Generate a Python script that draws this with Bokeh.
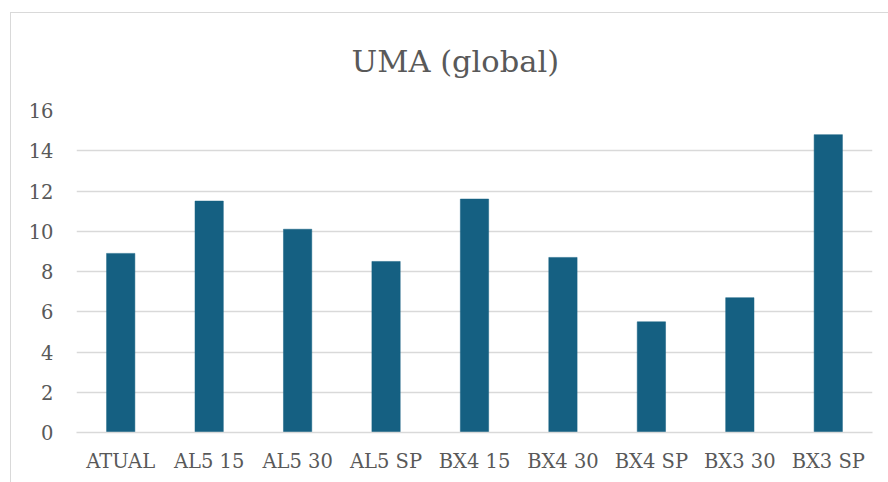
from bokeh.plotting import figure
from bokeh.models import FactorRange, Range1d, FixedTicker
from bokeh.embed import file_html
from bokeh.resources import INLINE

# UMA (global) per scenario
categories = ["ATUAL", "AL5 15", "AL5 30", "AL5 SP", "BX4 15",
              "BX4 30", "BX4 SP", "BX3 30", "BX3 SP"]
values = [8.9, 11.5, 10.1, 8.5, 11.6, 8.7, 5.5, 6.7, 14.8]
y_ticks = [0, 2, 4, 6, 8, 10, 12, 14, 16]

FONT = "DejaVu Serif"
TEXT = "#595959"
GRID = "#d9d9d9"
BAR = "#156082"

p = figure(
    width=877, height=470,
    x_range=FactorRange(factors=categories),
    y_range=Range1d(0, 16),
    output_backend="svg", toolbar_location=None,
    min_border_left=65, min_border_right=17,
    min_border_top=97, min_border_bottom=52,
)
# thin grey chart-area border on the left and top
p.styles = {
    "margin-left": "10px", "margin-top": "12px",
    "border-left": "1px solid #d9d9d9", "border-top": "1px solid #d9d9d9",
    "box-sizing": "content-box",
}
p.background_fill_color = "white"
p.border_fill_color = "white"
p.outline_line_color = None

p.title.text = "UMA (global)"
p.title.align = "left"
p.title.vertical_align = "top"
p.title.offset = 275
p.title.standoff = 59
p.title.text_font = FONT
p.title.text_font_size = "30.5px"
p.title.text_font_style = "normal"
p.title.text_color = TEXT

p.vbar(x=categories, top=values, width=0.32,
       fill_color=BAR, line_color=BAR, line_width=0.5)

# axes
p.yaxis.ticker = FixedTicker(ticks=y_ticks)
p.yaxis.axis_line_color = None
p.yaxis.major_tick_line_color = None
p.yaxis.major_tick_out = 0
p.yaxis.major_tick_in = 0
p.yaxis.minor_tick_line_color = None
p.yaxis.major_label_standoff = 23
p.yaxis.major_label_text_font = FONT
p.yaxis.major_label_text_font_size = "19.5px"
p.yaxis.major_label_text_color = TEXT

p.xaxis.axis_line_color = GRID
p.xaxis.axis_line_width = 1.5
p.xaxis.major_tick_line_color = None
p.xaxis.major_tick_out = 0
p.xaxis.major_tick_in = 0
p.xaxis.minor_tick_line_color = None
p.xaxis.major_label_standoff = 17
p.xaxis.major_label_text_font = FONT
p.xaxis.major_label_text_font_size = "19.5px"
p.xaxis.major_label_text_color = TEXT

p.xgrid.grid_line_color = None
p.ygrid.grid_line_color = GRID
p.ygrid.grid_line_width = 1.5

open("out.html", "w").write(file_html(p, INLINE))
